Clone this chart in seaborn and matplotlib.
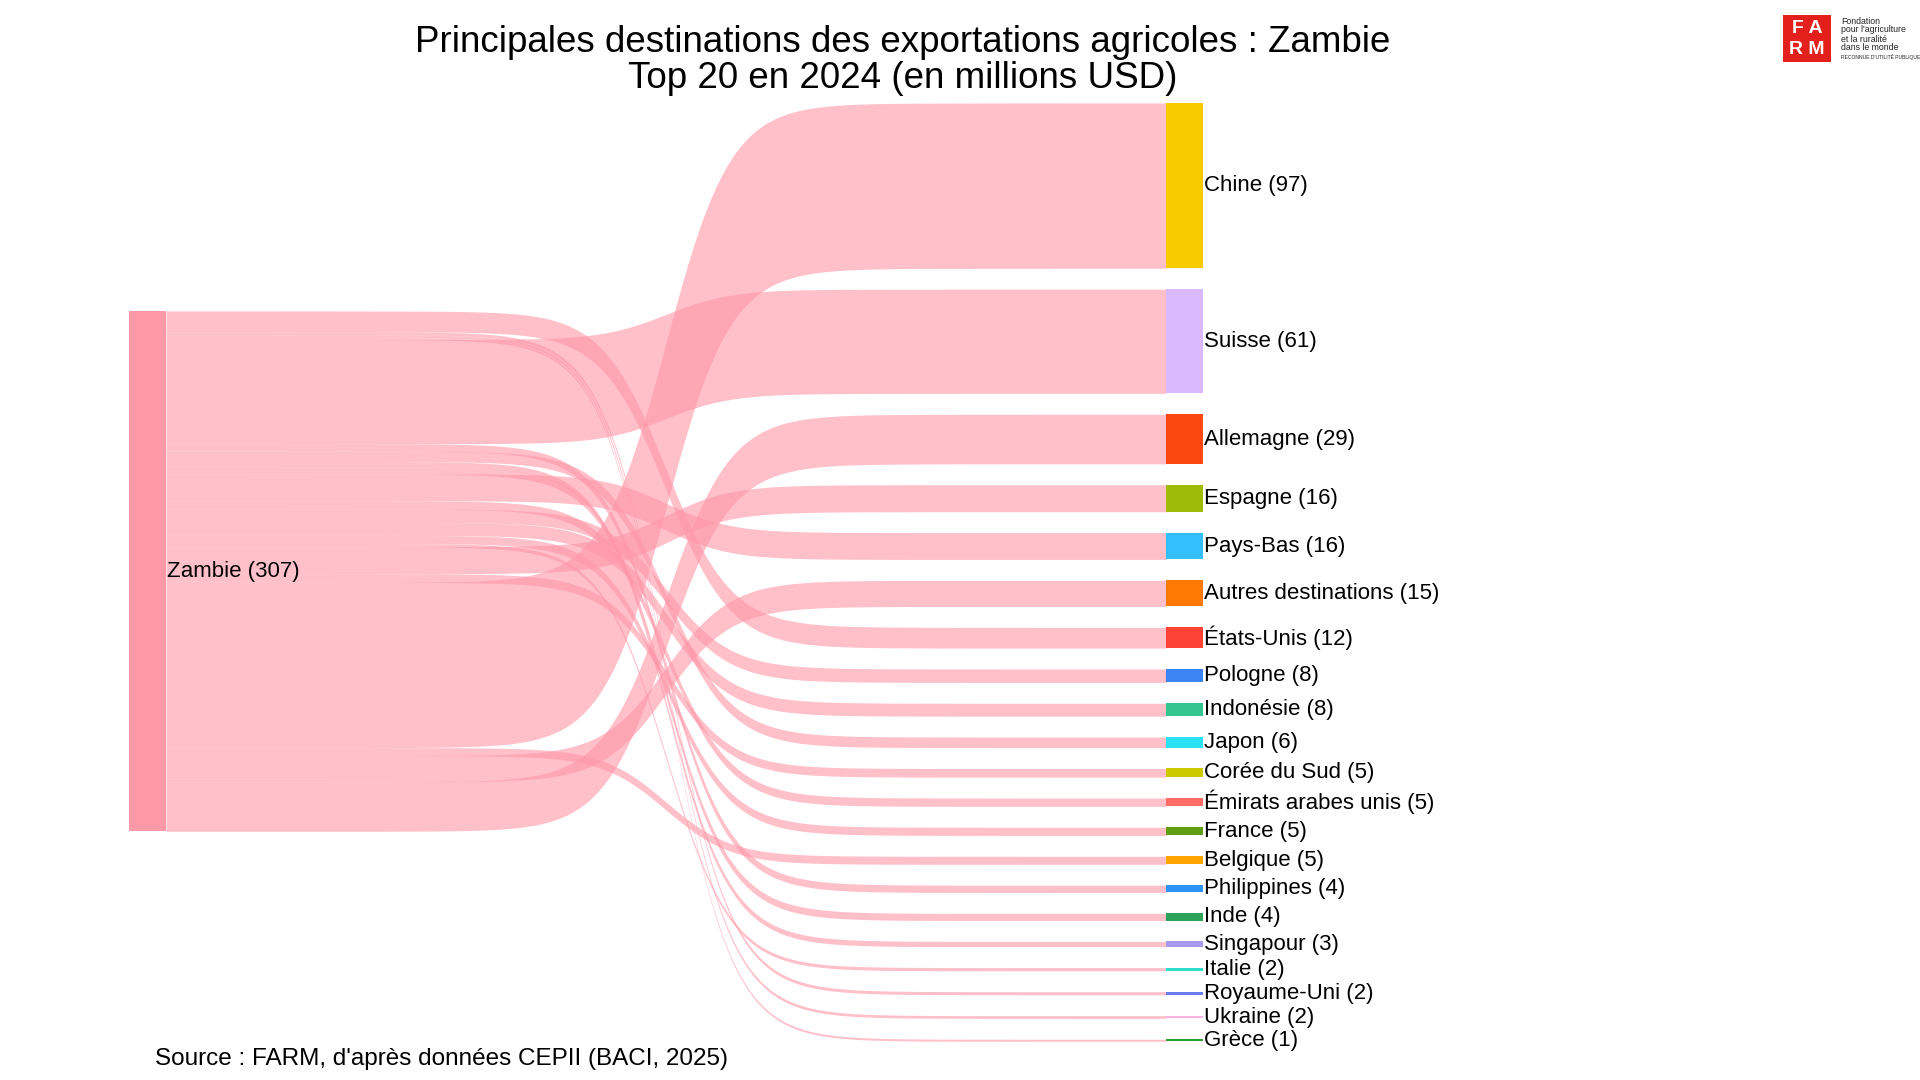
import numpy as np
import matplotlib
matplotlib.use("Agg")
import matplotlib.pyplot as plt
from matplotlib.patches import Rectangle
import seaborn as sns

# ---------------- data ----------------
source_name = "Zambie"
destinations = ["Chine", "Suisse", "Allemagne", "Espagne", "Pays-Bas",
                "Autres destinations", "États-Unis", "Pologne", "Indonésie",
                "Japon", "Corée du Sud", "Émirats arabes unis", "France",
                "Belgique", "Philippines", "Inde", "Singapour", "Italie",
                "Royaume-Uni", "Ukraine", "Grèce"]
values = [97.4, 61.4, 29.2, 15.9, 15.8, 15.4, 12.2, 7.9, 7.6, 6.2, 5.1,
          4.9, 4.8, 4.7, 4.3, 4.2, 3.1, 1.9, 1.8, 1.6, 1.2]
# order in which the flows leave the source node (top to bottom)
source_link_order = ["États-Unis", "Royaume-Uni", "Ukraine", "Grèce", "Suisse",
                     "Philippines", "Japon", "Singapour", "Inde", "Pays-Bas",
                     "Émirats arabes unis", "Pologne", "Indonésie", "France",
                     "Italie", "Espagne", "Corée du Sud", "Chine", "Belgique",
                     "Autres destinations", "Allemagne"]
title_lines = ["Principales destinations des exportations agricoles : Zambie",
               "Top 20 en 2024 (en millions USD)"]
source_note = "Source : FARM, d'après données CEPII (BACI, 2025)"

# ---------------- style ----------------
node_colors = ["#F8CB00", "#DBB9FF", "#FD4711", "#9DBB08", "#33BEFF",
               "#FF7A05", "#FF4136", "#3C83F5", "#34C690", "#2BE2F5",
               "#CDC900", "#FF6C66", "#5E9E10", "#FFA500", "#2D93F5",
               "#2DA35A", "#A79AF7", "#2EDDC8", "#6A7BEF", "#FFB3E4",
               "#2E9E2E"]
source_color = "#FF99A8"
link_rgba = (1.0, 150 / 255, 168 / 255, 0.6)

sns.set_theme(style="white")
plt.rcParams['font.family'] = ['Liberation Sans', 'DejaVu Sans']
plt.rcParams['text.color'] = 'black'

fig = plt.figure(figsize=(19.2, 10.8), dpi=100)
ax = fig.add_axes([0, 0, 1, 1])
ax.set_xlim(0, 1920)
ax.set_ylim(1080, 0)
ax.axis("off")

# layout (pixels)
SRC_X0, SRC_X1 = 129, 166
TGT_X0, TGT_X1 = 1166, 1203
SRC_TOP = 311
TGT_TOP = 103
SCALE = 1.697   # px per million USD
GAP = 20.9
STEEP = 31.0    # steepness of the sigmoid flows

total = sum(values)

# target node positions
tgt_pos = {}
y = TGT_TOP
for name, v, c in zip(destinations, values, node_colors):
    h = v * SCALE
    tgt_pos[name] = (y, y + h)
    ax.add_patch(Rectangle((TGT_X0, y), TGT_X1 - TGT_X0, h, facecolor=c,
                           edgecolor="none", zorder=3))
    ax.text(TGT_X1 + 1, y + h / 2, f"{name} ({round(v)})", fontsize=16,
            va="center", ha="left", color="black", zorder=5)
    y = y + h + GAP

# source node
src_h = total * SCALE
ax.add_patch(Rectangle((SRC_X0, SRC_TOP), SRC_X1 - SRC_X0, src_h,
                       facecolor=source_color, edgecolor="none", zorder=3))
ax.text(SRC_X1 + 1, SRC_TOP + src_h / 2, f"{source_name} ({round(total)})",
        fontsize=16, va="center", ha="left", color="black", zorder=5)

# links (sigmoid shaped ribbons)
val_of = dict(zip(destinations, values))
u = np.linspace(0, 1, 600)
sig = 1 / (1 + np.exp(-STEEP * (u - 0.5)))
sig = (sig - sig[0]) / (sig[-1] - sig[0])
bx = SRC_X1 + u * (TGT_X0 - SRC_X1)
ys = SRC_TOP
for name in source_link_order:
    h = val_of[name] * SCALE
    yt0, yt1 = tgt_pos[name]
    top = ys + (yt0 - ys) * sig
    bot = (ys + h) + (yt1 - ys - h) * sig
    ax.fill_between(bx, top, bot, color=link_rgba, linewidth=0, zorder=2)
    ys += h

# title
ax.text(903, 42.5, title_lines[0], fontsize=26.5, ha="center", va="center",
        color="black")
ax.text(903, 78.5, title_lines[1], fontsize=26.5, ha="center", va="center",
        color="black")

# source note
ax.text(155, 1059, source_note, fontsize=17.5, ha="left", va="center",
        color="black")

# logo
ax.add_patch(Rectangle((1783, 15), 48, 47, facecolor="#E3201B",
                       edgecolor="none", zorder=3))
ax.text(1807, 28.5, "F A", fontsize=14, color="white", fontweight="bold",
        ha="center", va="center", zorder=4)
ax.text(1807, 49, "R M", fontsize=14, color="white", fontweight="bold",
        ha="center", va="center", zorder=4)
for yy, s, fs in [(21, "Fondation", 6.3), (30, "pour l'agriculture", 6.3),
                  (39, "et la ruralité", 6.3), (48, "dans le monde", 6.3),
                  (57, "RECONNUE D'UTILITÉ PUBLIQUE", 3.6)]:
    ax.text(1841, yy, s, fontsize=fs, ha="left", va="center", color="#222222")

fig.savefig("out.png", dpi=100, facecolor="white")
